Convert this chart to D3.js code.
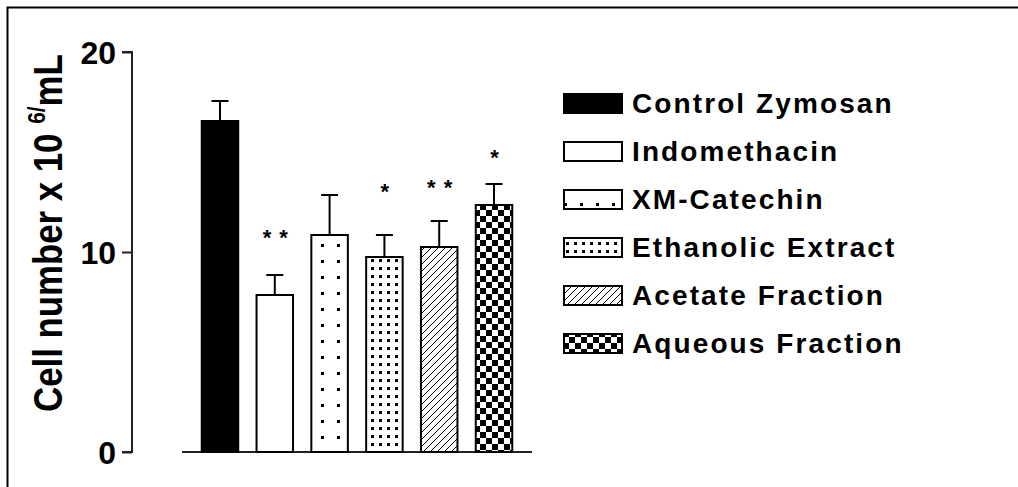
<!DOCTYPE html>
<html>
<head>
<meta charset="utf-8">
<script src="https://cdn.jsdelivr.net/npm/d3@7"></script>
<style>
  html, body { margin: 0; padding: 0; background: #fff; }
  svg { display: block; font-family: "Liberation Sans", Arial, sans-serif; }
</style>
</head>
<body>
<svg id="chart" width="1018" height="487"></svg>
<script>
// ---- data ----
const categories = ["Control Zymosan", "Indomethacin", "XM-Catechin", "Ethanolic Extract", "Acetate Fraction", "Aqueous Fraction"];
const means = [16.55, 7.85, 10.85, 9.75, 10.25, 12.35];
const errors = [1.0, 1.0, 2.0, 1.1, 1.3, 1.05];
const significance = ["", "**", "", "*", "**", "*"];
const significanceLevel = [0, 11.0, 0, 13.3, 13.5, 15.0];
const yTicks = [0, 10, 20];
const patterns = ["solid", "none", "sparseDots", "denseDots", "hatch", "checker"];

const svg = d3.select("#chart");
const defs = svg.append("defs");

// patterns
const pSparse = defs.append("pattern").attr("id", "sparseDots").attr("patternUnits", "userSpaceOnUse")
  .attr("width", 16).attr("height", 16).attr("x", 314).attr("y", 237);
pSparse.append("rect").attr("width", 16).attr("height", 16).attr("fill", "#fff");
pSparse.append("rect").attr("x", 7).attr("y", 7).attr("width", 3).attr("height", 3).attr("fill", "#000");

const pDense = defs.append("pattern").attr("id", "denseDots").attr("patternUnits", "userSpaceOnUse")
  .attr("width", 8).attr("height", 8).attr("x", 1).attr("y", 1);
pDense.append("rect").attr("width", 8).attr("height", 8).attr("fill", "#fff");
pDense.append("rect").attr("x", 2).attr("y", 2).attr("width", 3).attr("height", 3).attr("fill", "#000");

const pHatch = defs.append("pattern").attr("id", "hatch").attr("patternUnits", "userSpaceOnUse")
  .attr("width", 7).attr("height", 7);
pHatch.append("rect").attr("width", 7).attr("height", 7).attr("fill", "#fff");
pHatch.append("path").attr("d", "M-1,1 L1,-1 M0,7 L7,0 M6,8 L8,6").attr("stroke", "#000").attr("stroke-width", 1);

const pCheck = defs.append("pattern").attr("id", "checker").attr("patternUnits", "userSpaceOnUse")
  .attr("width", 12).attr("height", 12);
pCheck.append("rect").attr("width", 12).attr("height", 12).attr("fill", "#fff");
pCheck.append("rect").attr("x", 0).attr("y", 0).attr("width", 6).attr("height", 6).attr("fill", "#000");
pCheck.append("rect").attr("x", 6).attr("y", 6).attr("width", 6).attr("height", 6).attr("fill", "#000");

function fillFor(p) {
  if (p === "solid") return "#000";
  if (p === "none") return "#fff";
  return "url(#" + p + ")";
}

// frame
svg.append("path").attr("d", "M7.5,487 L7.5,7.5 L1018,7.5").attr("fill", "none").attr("stroke", "#000").attr("stroke-width", 2);

// scales
const y = d3.scaleLinear().domain([0, 20]).range([452, 52]);
const x = d3.scaleBand().domain(categories).range([182, 532]).paddingInner(0.334).paddingOuter(0.36);

// y axis
const yAxis = d3.axisLeft(y).tickValues(yTicks).tickSize(10).tickPadding(6).tickFormat(d3.format("d"));
const gy = svg.append("g").attr("transform", "translate(132,0)").call(yAxis);
gy.select(".domain").attr("stroke", "#222").attr("stroke-width", 2).attr("d", "M-10," + y(20) + "H0V" + y(0) + "H-10");
gy.selectAll(".tick line").attr("stroke", "#222").attr("stroke-width", 2);
gy.selectAll(".tick text").attr("font-size", 32).attr("font-weight", "bold").attr("fill", "#000")
  .attr("font-family", "'Liberation Sans', Arial, sans-serif").attr("dy", "0.36em");

// y title
const title = svg.append("text").attr("transform", "translate(62,412) rotate(-90) scale(0.87,1)")
  .attr("font-size", 40).attr("font-weight", "bold").attr("fill", "#000");
title.append("tspan").text("Cell number x 10 ");
title.append("tspan").attr("font-size", 24).attr("dy", -17).text("6/");
title.append("tspan").attr("dy", 17).text("mL");

// baseline
svg.append("line").attr("x1", 182).attr("x2", 532).attr("y1", y(0)).attr("y2", y(0))
  .attr("stroke", "#222").attr("stroke-width", 2);

// bars
const data = categories.map((c, i) => ({ c, v: means[i], e: errors[i], p: patterns[i], s: significance[i], sl: significanceLevel[i] }));

svg.append("g").selectAll("rect").data(data).join("rect")
  .attr("x", d => x(d.c)).attr("y", d => y(d.v))
  .attr("width", x.bandwidth()).attr("height", d => y(0) - y(d.v))
  .attr("fill", d => fillFor(d.p)).attr("stroke", "#000").attr("stroke-width", 2);

// error bars
const eg = svg.append("g").attr("stroke", "#000").attr("stroke-width", 2);
eg.selectAll("line.v").data(data).join("line").attr("class", "v")
  .attr("x1", d => x(d.c) + x.bandwidth() / 2).attr("x2", d => x(d.c) + x.bandwidth() / 2)
  .attr("y1", d => y(d.v)).attr("y2", d => y(d.v + d.e));
eg.selectAll("line.cap").data(data).join("line").attr("class", "cap")
  .attr("x1", d => x(d.c) + x.bandwidth() / 2 - 8.5).attr("x2", d => x(d.c) + x.bandwidth() / 2 + 8.5)
  .attr("y1", d => y(d.v + d.e)).attr("y2", d => y(d.v + d.e));

// significance stars
svg.append("g").selectAll("text").data(data.filter(d => d.s)).join("text")
  .attr("x", d => x(d.c) + x.bandwidth() / 2 + 1).attr("y", d => y(d.sl) + 13)
  .attr("text-anchor", "middle").attr("font-size", 22).attr("font-weight", "bold").attr("fill", "#000")
  .attr("letter-spacing", 1)
  .text(d => d.s.split("").join(" "));

// legend
const lg = svg.append("g").selectAll("g").data(data).join("g")
  .attr("transform", (d, i) => "translate(563," + (103 + i * 48) + ")");
lg.append("rect").attr("x", 1).attr("y", -9).attr("width", 58).attr("height", 19)
  .attr("fill", d => fillFor(d.p)).attr("stroke", "#000").attr("stroke-width", 2);
lg.append("text").attr("x", 69).attr("y", 10).attr("font-size", 28).attr("font-weight", "bold").attr("fill", "#000")
  .attr("letter-spacing", 2.1)
  .text(d => d.c);
</script>
</body>
</html>
